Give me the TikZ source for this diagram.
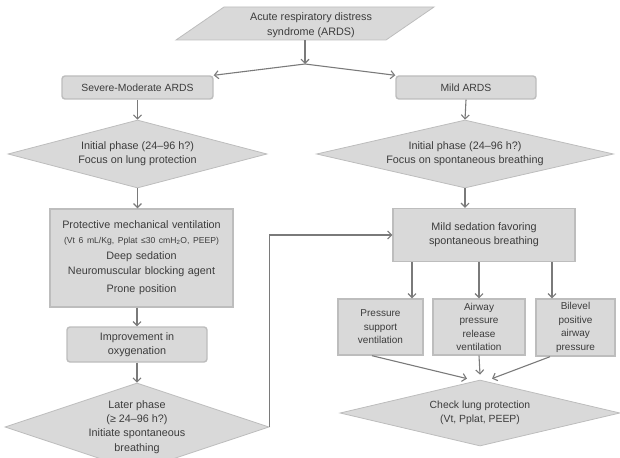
\documentclass[tikz,border=0pt]{standalone}
\usepackage{fontspec}
\setmainfont{Liberation Sans}
\usetikzlibrary{shapes.geometric,arrows.meta,calc}
\definecolor{boxfill}{HTML}{D9D9D9}
\definecolor{boxline}{HTML}{BDBDBD}
\definecolor{arrcol}{HTML}{7A7A7A}
\definecolor{txt}{HTML}{3C3C3C}
\begin{document}
\begin{tikzpicture}[x=1pt,y=-1pt,
  font=\fontsize{10.8}{14.2}\selectfont,
  box/.style={rectangle, fill=boxfill, draw=boxline, line width=1.4pt, inner sep=0pt, align=center, text=txt},
  rbox/.style={box, rounded corners=3pt},
  dia/.style={diamond, fill=boxfill, draw=boxline, line width=0.8pt, inner sep=0pt, align=center, text=txt},
  arr/.style={draw=arrcol, line width=1.1pt, -{Straight Barb[length=4pt,width=8pt]}},
  small/.style={font=\fontsize{10}{13.6}\selectfont},
  mid/.style={font=\fontsize{10.4}{14}\selectfont}
]
\useasboundingbox (0,0) rectangle (620,457);

% top parallelogram
\node[inner sep=0pt, minimum width=210, minimum height=33] (ards) at (305,23.5) {};
\filldraw[fill=boxfill, draw=boxline, line width=0.8pt] ($(ards.center)+(-129,16.5)$) -- ($(ards.center)+(81,16.5)$) -- ($(ards.center)+(129,-16.5)$) -- ($(ards.center)+(-81,-16.5)$) -- cycle;
\node[align=center, text=txt, inner sep=0pt] at ($(ards.center)+(6,1.5)$) {Acute respiratory distress\\[0.5pt]syndrome (ARDS)};
\coordinate (j) at (305,64);

\node[rbox, mid, minimum width=151, minimum height=23] (sev) at (137.5,87.5) {Severe-Moderate ARDS};
\node[rbox, mid, minimum width=140, minimum height=23] (mild) at (466,87.5) {Mild ARDS};

\node[dia, minimum width=259, minimum height=68, shape aspect=3.8] (d1) at (137.5,154) {Initial phase (24–96 h?)\\Focus on lung protection};
\node[dia, minimum width=297, minimum height=68, shape aspect=4.3] (d2) at (465,154) {Initial phase (24–96 h?)\\Focus on spontaneous breathing};

\node[box, minimum width=183, minimum height=98, text width=180pt] (prot) at (141.5,258) {Protective mechanical ventilation\\[0.8pt]{\fontsize{8.6}{10}\selectfont (Vt 6 mL/Kg, Pplat ≤30 cmH\textsubscript{2}O, PEEP)}\\[1.8pt]Deep sedation\\[0.8pt]Neuromuscular blocking agent\\[3.8pt]Prone position};
\node[rbox, minimum width=140, minimum height=35] (impr) at (137,344.5) {Improvement in\\oxygenation};
\node[dia, minimum width=264, minimum height=88, shape aspect=3] (d3) at (137,427) {Later phase\\(≥ 24–96 h?)\\Initiate spontaneous\\breathing};

\node[box, minimum width=182, minimum height=53] (sed) at (484,235) {Mild sedation favoring\\spontaneous breathing};
\node[box, small, minimum width=85, minimum height=56] (ps) at (380.5,327) {Pressure\\support\\ventilation};
\node[box, small, minimum width=92, minimum height=56] (apr) at (479,327) {Airway\\pressure\\release\\ventilation};
\node[box, small, minimum width=79, minimum height=57] (bil) at (575.5,327.5) {Bilevel\\positive\\airway\\pressure};
\node[dia, mid, minimum width=280, minimum height=66, shape aspect=4.2] (chk) at (480,413) {Check lung protection\\(Vt, Pplat, PEEP)};

% connectors
\draw[arr] (ards.south) -- (j);
\draw[arr] (j) -- (sev.north east);
\draw[arr] (j) -- (mild.north west);
\draw[arr] (sev.south) -- (d1.north);
\draw[arr] (mild.south) -- (d2.north);
\draw[arr] (d1.south) -- (d1.south |- prot.north);
\draw[arr] (impr.north |- prot.south) -- (impr.north);
\draw[arr] (impr.south) -- (d3.north);
\draw[arr] (d3.east) |- (sed.west);
\draw[arr] (d2.south) -- (d2.south |- sed.north);
\draw[arr] ([xshift=31.5pt]ps.north |- sed.south) -- ([xshift=31.5pt]ps.north);
\draw[arr] (apr.north |- sed.south) -- (apr.north);
\draw[arr] ([xshift=-23.5pt]bil.north |- sed.south) -- ([xshift=-23.5pt]bil.north);
\draw[arr] ([xshift=-8.5pt]ps.south) -- ([xshift=-13pt,yshift=1pt]chk.north);
\draw[arr] (apr.south) -- ([yshift=5pt]chk.north);
\draw[arr] ([xshift=-25.5pt]bil.south) -- ([xshift=12pt,yshift=1pt]chk.north);
\end{tikzpicture}
\end{document}
